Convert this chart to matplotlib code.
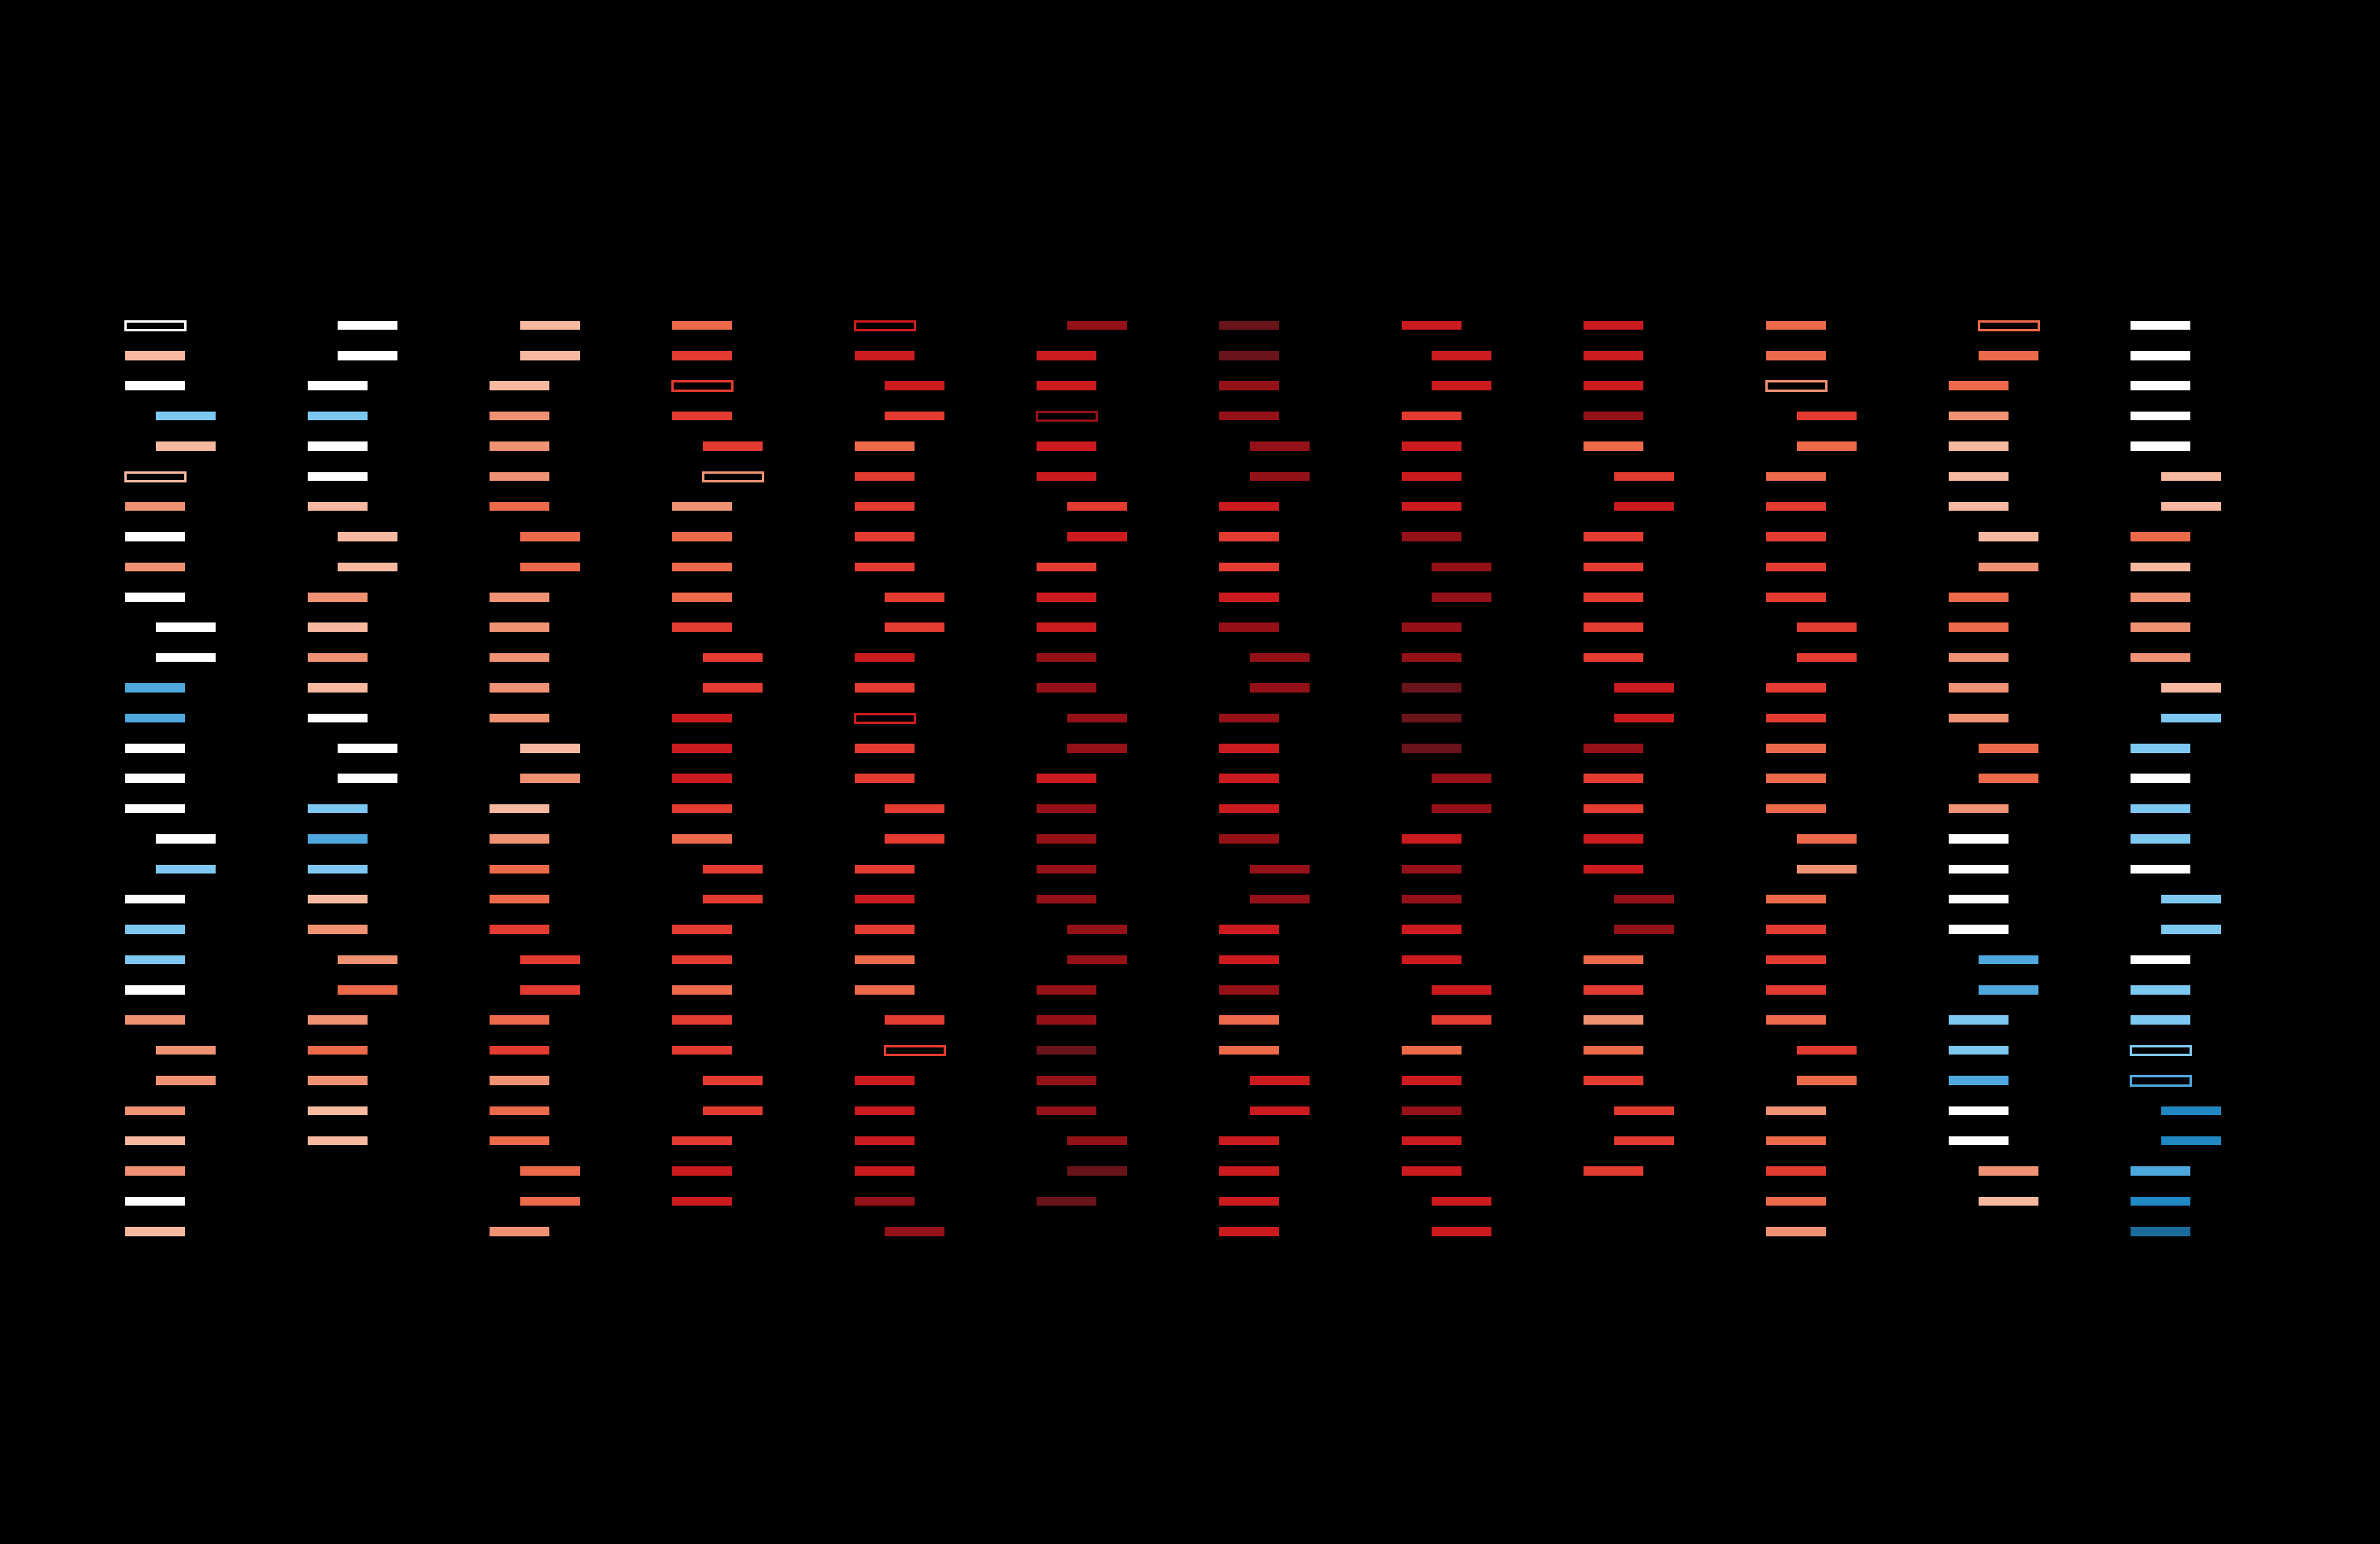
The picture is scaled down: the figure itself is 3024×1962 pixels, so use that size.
import datetime
import matplotlib.pyplot as plt

# 年と月（曜日の判定に使う）
year = 2025

# 日ごとの気温レベル（-4: 濃い青 ... 0: 白 ... 7: 濃い赤）
jan = [0, 1, 0, -1, 1, 1, 2, 0, 2, 0, 0, 0, -2, -2, 0, 0, 0, 0, -1, 0, -1, -1, 0, 2, 2, 2, 2, 1, 2, 0, 1]
feb = [0, 0, 0, -1, 0, 0, 1, 1, 1, 2, 1, 2, 1, 0, 0, 0, -1, -2, -1, 1, 2, 2, 3, 2, 3, 2, 1, 1]
mar = [1, 1, 1, 2, 2, 2, 3, 3, 3, 2, 2, 2, 2, 2, 1, 2, 1, 2, 3, 3, 4, 4, 4, 3, 4, 2, 3, 3, 3, 3, 2]
apr = [3, 4, 4, 4, 4, 2, 2, 3, 3, 3, 4, 4, 4, 5, 5, 5, 4, 3, 4, 4, 4, 4, 3, 4, 4, 4, 4, 4, 5, 5]
may = [5, 5, 5, 4, 3, 4, 4, 4, 4, 4, 4, 5, 4, 5, 4, 4, 4, 4, 4, 5, 4, 3, 3, 4, 4, 5, 5, 5, 5, 6, 6]
jun = [6, 5, 5, 6, 5, 5, 4, 5, 4, 5, 5, 6, 6, 6, 6, 5, 6, 6, 6, 6, 6, 6, 6, 6, 7, 6, 6, 6, 7, 7]
jul = [7, 7, 6, 6, 6, 6, 5, 4, 4, 5, 6, 6, 6, 6, 5, 5, 5, 6, 6, 6, 5, 5, 6, 3, 3, 5, 5, 5, 5, 5, 5]
aug = [5, 5, 5, 4, 5, 5, 5, 6, 6, 6, 6, 6, 7, 7, 7, 6, 6, 5, 6, 6, 5, 5, 5, 4, 3, 5, 6, 5, 5, 5, 5]
sep = [5, 5, 5, 6, 3, 4, 5, 4, 4, 4, 4, 4, 5, 5, 6, 4, 4, 5, 5, 6, 6, 3, 4, 2, 3, 4, 4, 4, 4]
oct_ = [3, 3, 2, 4, 3, 3, 4, 4, 4, 4, 4, 4, 4, 4, 3, 3, 3, 3, 2, 3, 4, 4, 4, 3, 4, 3, 2, 3, 4, 3, 2]
nov = [3, 3, 3, 2, 1, 1, 1, 1, 2, 3, 3, 2, 2, 2, 3, 3, 2, 0, 0, 0, 0, -2, -2, -1, -1, -2, 0, 0, 2, 1]
dec = [0, 0, 0, 0, 0, 1, 1, 3, 1, 2, 2, 2, 1, -1, -1, 0, -1, -1, 0, -1, -1, 0, -1, -1, -1, -2, -3, -3, -2, -3, -4]

months = [jan, feb, mar, apr, may, jun, jul, aug, sep, oct_, nov, dec]

# 枠だけで描く日（月番号: 日のリスト）
hollow_days = {1: [1, 6], 4: [3, 6], 5: [1, 14, 25], 6: [4], 10: [3], 11: [1], 12: [25, 26]}

# レベルごとの色
level_colors = {
    -4: "#1a6b9a", -3: "#2088c3", -2: "#4ea8de", -1: "#7dc8f1",
    0: "#ffffff", 1: "#f6b9a0", 2: "#ef9273", 3: "#ec6a4a",
    4: "#e33b30", 5: "#cb1b1e", 6: "#941217", 7: "#69141a",
}

fig = plt.figure(figsize=(15.12, 9.81), dpi=200, facecolor="black")
ax = fig.add_axes([0, 0, 1, 1])
ax.set_facecolor("black")
ax.axis("off")
ax.set_xlim(-2.059, 37.10)
ax.set_ylim(41.35, -9.774)

for m, levels in enumerate(months):
    month = m + 1
    for d, lv in enumerate(levels, start=1):
        weekend = datetime.date(year, month, d).weekday() >= 5
        x = 3 * m + (0.5 if weekend else 0)  # 週末は右にずらす
        color = level_colors[lv]
        if d in hollow_days.get(month, []):
            ax.barh(d, 0.984, left=x, height=0.3, facecolor="none",
                    edgecolor=color, linewidth=1.1)
        else:
            ax.barh(d, 0.984, left=x, height=0.3, color=color, linewidth=0)

plt.savefig("out.png", dpi=200, facecolor="black")
plt.close()
